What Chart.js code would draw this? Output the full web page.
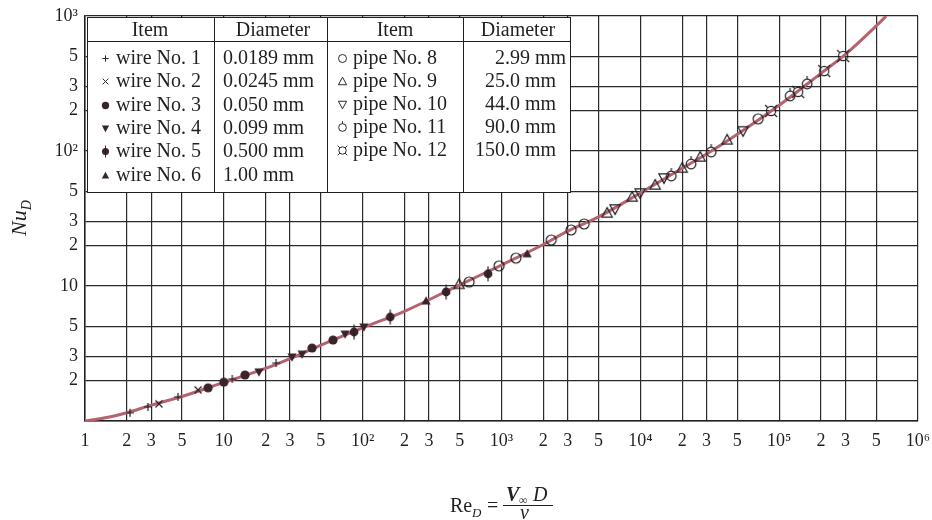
<!DOCTYPE html>
<html><head><meta charset="utf-8">
<script src="https://cdn.jsdelivr.net/npm/chart.js@4/dist/chart.umd.min.js"></script>
<style>
html,body{margin:0;padding:0;background:#fff;}
#wrap{position:relative;width:932px;height:520px;overflow:hidden;font-family:'Liberation Serif','Times New Roman',serif;color:#231f20;}
#c{position:absolute;left:0;top:0;}
.abs{position:absolute;white-space:nowrap;}
.lt{position:absolute;white-space:nowrap;font-size:20px;line-height:22px;}
.box{position:absolute;left:87px;top:17px;width:484px;height:176px;background:#fff;border:1.5px solid #231f20;box-sizing:border-box;}
.vd{position:absolute;top:17px;height:176px;width:0;border-left:1.5px solid #231f20;}
.hd{position:absolute;left:87px;top:41px;width:484px;height:0;border-top:1.5px solid #231f20;}
.mk{position:absolute;}
</style>
</head><body>
<div id="wrap">
<canvas id="c" width="932" height="520"></canvas>
<div id="legend"></div>
<div id="titles"></div>
</div>
<script>
// ---- axis ticks ----
const xTickValues = [1,2,3,5,10,20,30,50,100,200,300,500,1000,2000,3000,5000,10000,20000,30000,50000,100000,200000,300000,500000,1000000];
const xTickLabels = ['1','2','3','5','10','2','3','5','10\u00B2','2','3','5','10\u00B3','2','3','5','10\u2074','2','3','5','10\u2075','2','3','5','10\u2076'];
const yTickValues = [1,2,3,5,10,20,30,50,100,200,300,500,1000];
const yTickLabels = ['','2','3','5','10','2','3','5','10\u00B2','2','3','5','10\u00B3'];

// ---- correlation curve ----
const curveRe = [1,1.5,2,3,5,10,20,30,50,100,200,500,1000,2000,3000,5000,10000,20000,30000,50000,100000,200000,300000,500000,590000];
const curveNu = [1.0,1.07,1.15,1.31,1.52,1.93,2.45,2.9,3.65,4.9,6.5,10.2,14.3,20.3,25.5,32.5,48.9,74.5,95,133,218,376,520,845,1000];

// ---- measured points ----
const wire1Re = [2.11,2.84,4.68,11.5,23.8];
const wire1Nu = [1.15,1.27,1.51,2.05,2.69];
const wire2Re = [3.41,6.52];
const wire2Nu = [1.34,1.70];
const wire3Re = [7.7,10.0,14.2,43.2,61.2];
const wire3Nu = [1.76,1.94,2.19,3.47,3.98];
const wire4Re = [17.9,31.0,36.6,74.7,102];
const wire4Nu = [2.31,2.98,3.13,4.41,4.97];
const wire5Re = [86.7,158,399,800];
const wire5Nu = [4.56,5.89,9.03,12.3];
const wire6Re = [286,1530];
const wire6Nu = [7.74,17.3];
const pipe8Re = [584,961,1270,2280,3170,3940,70600];
const pipe8Nu = [10.7,14.1,16.1,21.9,26.0,28.8,173];
const pipe9Re = [495,5770,8730,12800,20000,27000,42200];
const pipe9Nu = [10.3,34.7,45.6,56.0,74.8,90.3,121];
const pipe10Re = [6580,9970,14800,55000];
const pipe10Nu = [37.2,48.9,63.1,141];
const pipe11Re = [16700,23200,32400,120000,159000];
const pipe11Nu = [65.3,80.1,98.3,256,314];
const pipe12Re = [87500,137000,211000,289000];
const pipe12Nu = [198,274,391,505];

// ---- legend table text ----
const wireItems = ['wire No. 1','wire No. 2','wire No. 3','wire No. 4','wire No. 5','wire No. 6'];
const wireDiam = ['0.0189 mm','0.0245 mm','0.050 mm','0.099 mm','0.500 mm','1.00 mm'];
const pipeItems = ['pipe No. 8','pipe No. 9','pipe No. 10','pipe No. 11','pipe No. 12'];
const pipeDiam = ['2.99 mm','25.0 mm','44.0 mm','90.0 mm','150.0 mm'];

const INK = '#231f20';
const FILL = '#3a2429';

function marker(type, s){
  const n = Math.ceil(18*s); const cv = document.createElement('canvas');
  cv.width = n; cv.height = n; const g = cv.getContext('2d'); const c = n/2;
  g.strokeStyle = INK; g.fillStyle = FILL; g.lineWidth = 1.2*s;
  const circ = (r)=>{g.beginPath(); g.arc(c,c,r,0,Math.PI*2);};
  const tri = (h, up)=>{g.beginPath(); const d = up?1:-1;
    g.moveTo(c, c - d*h); g.lineTo(c + h*0.95, c + d*h*0.75); g.lineTo(c - h*0.95, c + d*h*0.75); g.closePath();};
  switch(type){
    case 'plus': g.beginPath(); g.moveTo(c-4*s,c); g.lineTo(c+4*s,c); g.moveTo(c,c-4*s); g.lineTo(c,c+4*s); g.stroke(); break;
    case 'x': g.beginPath(); g.moveTo(c-3.5*s,c-3.5*s); g.lineTo(c+3.5*s,c+3.5*s); g.moveTo(c+3.5*s,c-3.5*s); g.lineTo(c-3.5*s,c+3.5*s); g.stroke(); break;
    case 'dot': circ(4.6*s); g.fill(); break;
    case 'tdown': tri(4.8*s,false); g.fill(); break;
    case 'tup': tri(4.8*s,true); g.fill(); break;
    case 'dottick': circ(4.4*s); g.fill(); g.beginPath(); g.moveTo(c,c-7.5*s); g.lineTo(c,c+7.5*s); g.stroke(); break;
    case 'circle': circ(5*s); g.stroke(); break;
    case 'otup': tri(5.4*s,true); g.stroke(); break;
    case 'otdown': tri(5.4*s,false); g.stroke(); break;
    case 'circtick': circ(4.8*s); g.stroke(); g.beginPath(); g.moveTo(c,c-4.8*s); g.lineTo(c,c-8*s); g.stroke(); break;
    case 'curr': circ(4.6*s); g.stroke(); g.beginPath();
      [[1,1],[1,-1],[-1,1],[-1,-1]].forEach(([a,b])=>{g.moveTo(c+a*3.25*s,c+b*3.25*s); g.lineTo(c+a*6*s,c+b*6*s);}); g.stroke(); break;
  }
  return cv;
}

const series = [
  {re:wire1Re, nu:wire1Nu, m:'plus'},
  {re:wire2Re, nu:wire2Nu, m:'x'},
  {re:wire3Re, nu:wire3Nu, m:'dot'},
  {re:wire4Re, nu:wire4Nu, m:'tdown'},
  {re:wire5Re, nu:wire5Nu, m:'dottick'},
  {re:wire6Re, nu:wire6Nu, m:'tup'},
  {re:pipe8Re, nu:pipe8Nu, m:'circle'},
  {re:pipe9Re, nu:pipe9Nu, m:'otup'},
  {re:pipe10Re, nu:pipe10Nu, m:'otdown'},
  {re:pipe11Re, nu:pipe11Nu, m:'circtick'},
  {re:pipe12Re, nu:pipe12Nu, m:'curr'}
];

const datasets = series.map(sr => ({
  data: sr.re.map((x,i)=>({x:x, y:sr.nu[i]})),
  showLine:false, pointStyle: marker(sr.m,1), pointRadius:5, order:0
}));
datasets.push({
  data: curveRe.map((x,i)=>({x:x, y:curveNu[i]})),
  showLine:true, pointRadius:0, borderColor:'#b4636f', borderWidth:3,
  cubicInterpolationMode:'monotone', order:5
});

const tickFont = {family:"'Liberation Serif', serif", size:18};
new Chart(document.getElementById('c'), {
  type:'scatter',
  data:{datasets},
  options:{
    responsive:false, animation:false, events:[],
    layout:{padding:{top:16,right:14,left:0,bottom:0}},
    plugins:{legend:{display:false}, tooltip:{enabled:false}},
    scales:{
      x:{type:'logarithmic', min:1, max:1000000,
        afterBuildTicks:(s)=>{s.ticks = xTickValues.map(v=>({value:v}));},
        afterFit:(s)=>{s.height = 99; s.paddingLeft = 0; s.paddingRight = 0;},
        ticks:{autoSkip:false, maxRotation:0, minRotation:0, padding:9, font:tickFont, color:INK,
          callback:(v)=>{const i = xTickValues.indexOf(v); return i>=0 ? xTickLabels[i] : '';}},
        grid:{color:'#2a2a2a', lineWidth:1.2, drawTicks:false},
        border:{color:INK, width:1.5}
      },
      y:{type:'logarithmic', min:1, max:1000,
        afterBuildTicks:(s)=>{s.ticks = yTickValues.map(v=>({value:v}));},
        afterFit:(s)=>{s.width = 85; s.paddingTop = 0; s.paddingBottom = 0;},
        ticks:{autoSkip:false, padding:7, font:tickFont, color:INK,
          callback:(v)=>{const i = yTickValues.indexOf(v); return i>=0 ? yTickLabels[i] : '';}},
        grid:{color:'#2a2a2a', lineWidth:1.2, drawTicks:false},
        border:{color:INK, width:1.5}
      }
    }
  }
});

// ---- legend table (HTML overlay) ----
const L = document.getElementById('legend');
let html = '<div class="box"></div><div class="vd" style="left:214px"></div><div class="vd" style="left:327px"></div><div class="vd" style="left:463px"></div><div class="hd"></div>';
const hdr = [['Item',150],['Diameter',273],['Item',395],['Diameter',518]];
hdr.forEach(([t,cx])=>{ html += `<div class="lt" style="left:${cx-60}px;width:120px;text-align:center;top:18px">${t}</div>`; });
const wireY = [57,80,104,127,150,174];
const pipeY = [57,80,103,126,149];
wireItems.forEach((t,i)=>{
  html += `<div class="lt" style="left:116px;top:${wireY[i]-11}px">${t}</div>`;
  html += `<div class="lt" style="left:223px;top:${wireY[i]-11}px">${wireDiam[i]}</div>`;
});
pipeItems.forEach((t,i)=>{
  html += `<div class="lt" style="left:353px;top:${pipeY[i]-11}px">${t}</div>`;
  const right = i===0 ? 566 : 556;
  html += `<div class="lt" style="left:${right-120}px;width:120px;text-align:right;top:${pipeY[i]-11}px">${pipeDiam[i]}</div>`;
});
L.innerHTML = html;
series.forEach((sr,i)=>{
  const cv = marker(sr.m,0.8); cv.className='mk';
  const cx = i<6 ? 105 : 342; const cy = i<6 ? wireY[i]+1 : pipeY[i-6]+1;
  cv.style.left = (cx - cv.width/2)+'px'; cv.style.top = (cy - cv.height/2)+'px';
  L.appendChild(cv);
});

// ---- axis titles ----
document.getElementById('titles').innerHTML =
 '<div class="abs" style="left:-26px;top:203px;width:90px;height:30px;line-height:30px;text-align:center;transform:rotate(-90deg);font-size:22px;"><i>Nu</i><i style="font-size:14px;position:relative;top:5px">D</i></div>' +
 '<div class="abs" style="left:450px;top:495px;font-size:20px;line-height:20px">Re</div>' +
 '<div class="abs" style="left:472px;top:506px;font-size:13px;line-height:13px;font-style:italic">D</div>' +
 '<div class="abs" style="left:487px;top:495px;font-size:20px;line-height:20px">=</div>' +
 '<div class="abs" style="left:503px;top:505px;width:50px;height:0;border-top:1.2px solid #231f20"></div>' +
 '<div class="abs" style="left:506px;top:484px;font-size:20px;line-height:20px;font-weight:bold;font-style:italic">V</div>' +
 '<div class="abs" style="left:519px;top:494px;font-size:12px;line-height:12px">\u221E</div>' +
 '<div class="abs" style="left:533px;top:484px;font-size:20px;line-height:20px;font-style:italic">D</div>' +
 '<div class="abs" style="left:520px;top:502px;font-size:20px;line-height:20px;font-style:italic">\u03BD</div>';
</script>
</body></html>
